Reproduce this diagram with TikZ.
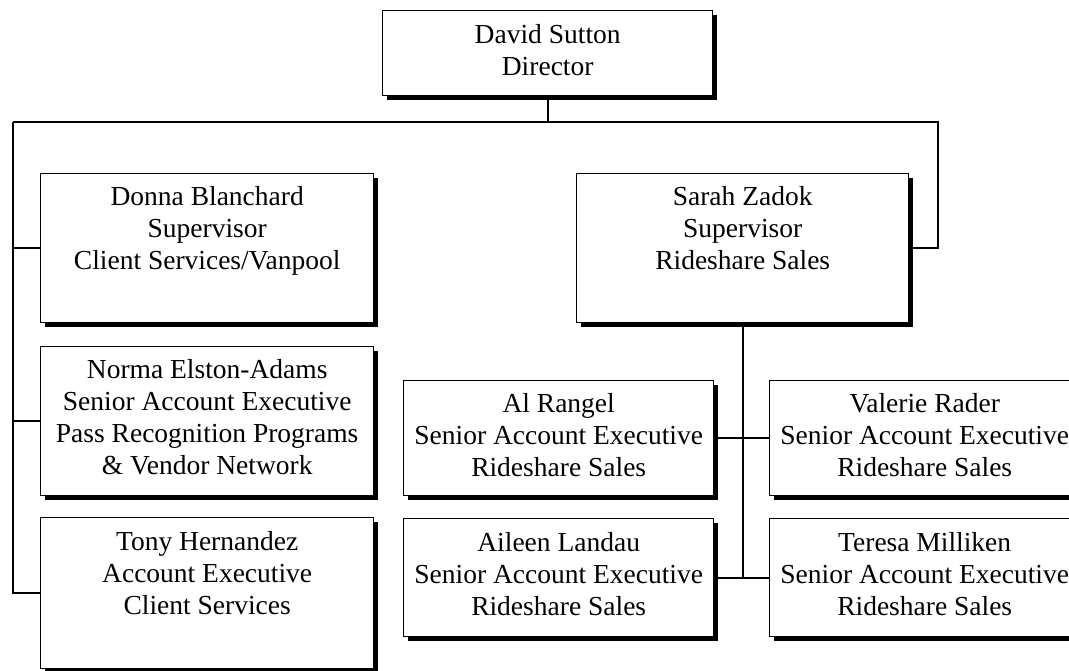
\documentclass[tikz,border=0pt]{standalone}
\usepackage{fontspec}
\setmainfont{Liberation Serif}
\usetikzlibrary{shadows}
\newcommand{\btext}[4]{\parbox[c][#2][t]{#1}{\centering\vspace*{#3}#4\par}}
\tikzset{
  orgbox/.style={draw, line width=1.4pt, fill=white, inner sep=0pt, anchor=north west,
    font=\fontsize{27.5}{32}\selectfont,
    drop shadow={shadow xshift=4.5pt, shadow yshift=-4.5pt, fill=black, opacity=1}},
  link/.style={line width=1.8pt}
}
\begin{document}
\begin{tikzpicture}[x=1pt,y=-1pt]
\clip (0,0) rectangle (1069,670);
\fill[white] (0,0) rectangle (1069,670);
\node[orgbox] (director) at (382,10) {\btext{330pt}{85pt}{14pt}{David Sutton\\Director}};
\node[orgbox] (donna) at (40,173) {\btext{333pt}{149pt}{13pt}{Donna Blanchard\\Supervisor\\Client Services/Vanpool}};
\node[orgbox] (sarah) at (576,173) {\btext{332pt}{149pt}{13pt}{Sarah Zadok\\Supervisor\\Rideshare Sales}};
\node[orgbox] (norma) at (40,346) {\btext{333pt}{149pt}{13pt}{Norma Elston-Adams\\Senior Account Executive\\Pass Recognition Programs\\\& Vendor Network}};
\node[orgbox] (tony) at (40,517) {\btext{333pt}{151pt}{14pt}{Tony Hernandez\\Account Executive\\Client Services}};
\node[orgbox] (al) at (403,380) {\btext{310pt}{115pt}{13pt}{Al Rangel\\Senior Account Executive\\Rideshare Sales}};
\node[orgbox] (valerie) at (769,380) {\btext{310pt}{115pt}{13pt}{Valerie Rader\\Senior Account Executive\\Rideshare Sales}};
\node[orgbox] (aileen) at (403,518) {\btext{310pt}{118pt}{14pt}{Aileen Landau\\Senior Account Executive\\Rideshare Sales}};
\node[orgbox] (teresa) at (769,518) {\btext{310pt}{118pt}{14pt}{Teresa Milliken\\Senior Account Executive\\Rideshare Sales}};
\coordinate (tl) at (13,122);
\coordinate (tr) at (938,122);
\coordinate (dj) at (director.south |- tl);
\draw[link] (director.south) -- (dj);
\draw[link] (tl) -- (tr) -- (tr |- sarah.east) -- (sarah.east);
\draw[link] (tl) -- (tl |- tony.west) -- (tony.west);
\draw[link] (tl |- donna.west) -- (donna.west);
\draw[link] (tl |- norma.west) -- (norma.west);
\draw[link] (sarah.south) -- (sarah.south |- aileen.east);
\draw[link] (al.east) -- (valerie.west);
\draw[link] (aileen.east) -- (teresa.west);
\end{tikzpicture}
\end{document}
